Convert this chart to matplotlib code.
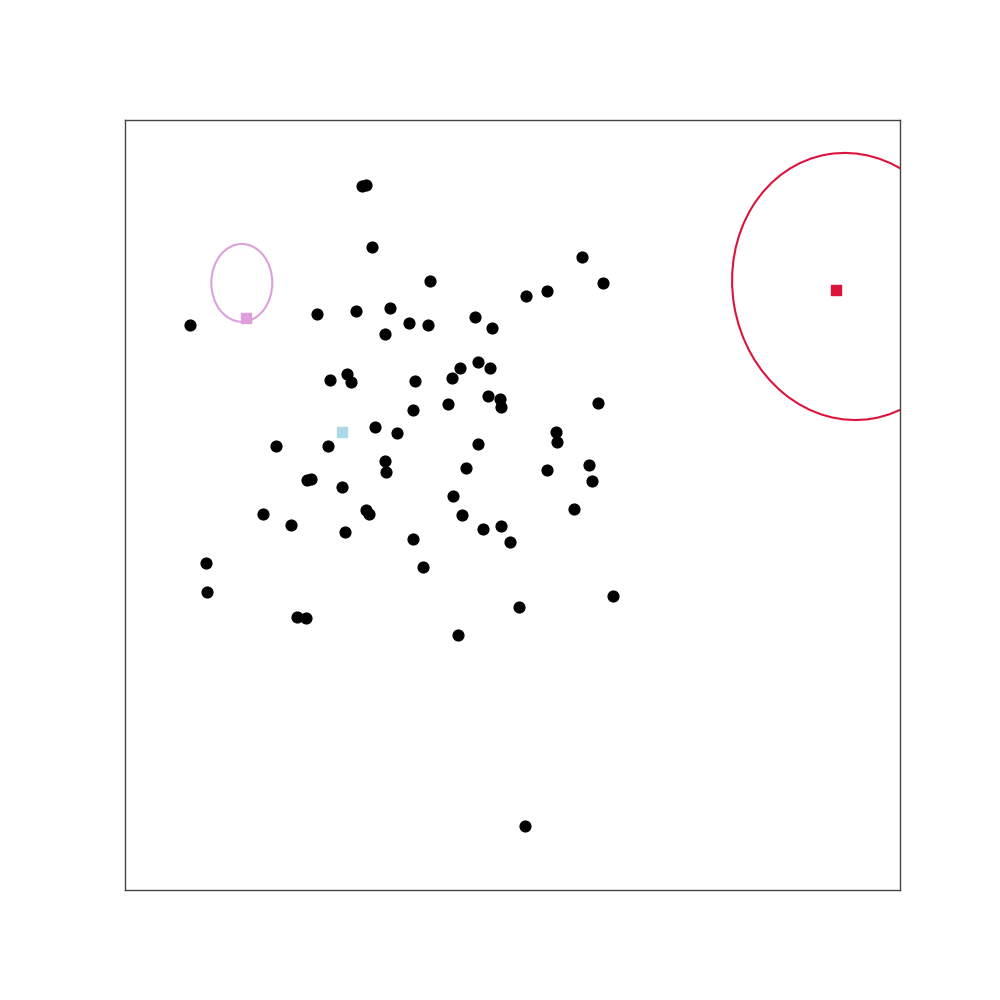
import matplotlib
matplotlib.use("Agg")
import matplotlib.pyplot as plt
from matplotlib.patches import Ellipse

# points (data units, axes span 0..10)
pts_x = [3.054, 3.106, 3.191, 0.843, 2.481, 2.985, 3.423, 3.668, 3.359, 2.649,
         2.868, 2.920, 3.742, 3.720, 3.939, 5.901, 6.172, 5.449, 5.178, 3.914,
         4.520, 4.739, 4.326, 4.559, 4.714, 4.223, 4.684, 4.843, 4.855, 4.172,
         6.107, 5.565, 5.578, 3.230, 3.514, 1.952, 2.623, 4.559, 3.359, 3.372,
         4.404, 5.449, 5.991, 6.030, 2.348, 2.396, 2.804, 4.236, 5.794, 1.785,
         2.146, 3.114, 3.145, 4.352, 4.623, 4.855, 2.843, 3.720, 4.972, 1.049,
         3.839, 1.062, 6.301, 2.219, 2.339, 5.088, 4.301, 5.161]
pts_y = [9.143, 9.160, 8.347, 7.334, 7.477, 7.516, 7.555, 7.360, 7.217, 6.619,
         6.701, 6.594, 6.606, 6.234, 7.905, 8.217, 7.879, 7.775, 7.710, 7.334,
         7.438, 7.295, 6.775, 6.853, 6.775, 6.645, 6.412, 6.373, 6.269, 6.318,
         6.331, 5.944, 5.814, 6.009, 5.931, 5.762, 5.762, 5.788, 5.567, 5.425,
         5.477, 5.451, 5.516, 5.308, 5.321, 5.334, 5.230, 5.113, 4.944, 4.879,
         4.736, 4.935, 4.887, 4.866, 4.684, 4.723, 4.645, 4.558, 4.516, 4.243,
         4.191, 3.866, 3.814, 3.542, 3.529, 3.671, 3.308, 0.831]

# square markers
sq_x = [1.565, 2.800, 9.178]
sq_y = [7.432, 5.952, 7.792]
sq_colors = ['plum', 'lightblue', 'crimson']

# ellipses: center x, center y, width, height, angle
ell_cx = [1.507, 9.355]
ell_cy = [7.885, 7.838]
ell_w = [0.787, 3.03]
ell_h = [1.01, 3.48]
ell_ang = [0, 9.5]
ell_colors = ['plum', 'crimson']

fig, ax = plt.subplots(figsize=(10, 10), dpi=100)

ax.scatter(pts_x, pts_y, s=60, color='black', zorder=3)
ax.scatter(sq_x, sq_y, s=55, marker='s', color=sq_colors, zorder=3)

for cx, cy, w, h, a, c in zip(ell_cx, ell_cy, ell_w, ell_h, ell_ang, ell_colors):
    ax.add_patch(Ellipse((cx, cy), w, h, angle=a, fill=False, edgecolor=c, lw=1.5))

ax.set_xlim(0, 10)
ax.set_ylim(0, 10)
ax.set_xticks([])
ax.set_yticks([])
for sp in ax.spines.values():
    sp.set_color('#444444')
    sp.set_linewidth(1.0)

plt.savefig('out.png')
